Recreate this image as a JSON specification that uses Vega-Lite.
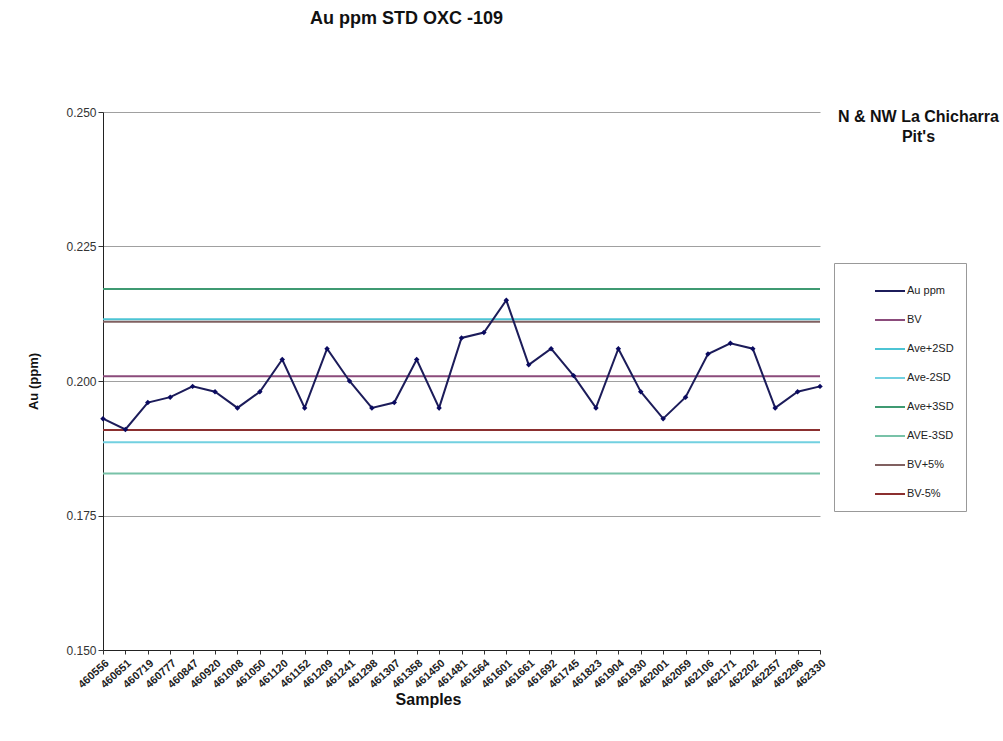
{
  "$schema": "https://vega.github.io/schema/vega-lite/v6.json",
  "width": 717,
  "height": 538,
  "autosize": "none",
  "padding": {"left": 103, "top": 112, "right": 183, "bottom": 91},
  "background": "white",
  "config": {
    "font": "Liberation Sans",
    "view": {"stroke": null}
  },
  "title": {
    "text": "Au ppm STD OXC -109",
    "font": "Liberation Sans",
    "fontSize": 18,
    "fontWeight": "bold",
    "color": "#111",
    "anchor": "middle",
    "dx": -55,
    "baseline": "alphabetic",
    "offset": 64
  },
  "datasets": {
    "samples": [
      {"sample": "460556", "au": 0.193},
      {"sample": "460651", "au": 0.191},
      {"sample": "460719", "au": 0.196},
      {"sample": "460777", "au": 0.197},
      {"sample": "460847", "au": 0.199},
      {"sample": "460920", "au": 0.198},
      {"sample": "461008", "au": 0.195},
      {"sample": "461050", "au": 0.198},
      {"sample": "461120", "au": 0.204},
      {"sample": "461152", "au": 0.195},
      {"sample": "461209", "au": 0.206},
      {"sample": "461241", "au": 0.200},
      {"sample": "461298", "au": 0.195},
      {"sample": "461307", "au": 0.196},
      {"sample": "461358", "au": 0.204},
      {"sample": "461450", "au": 0.195},
      {"sample": "461481", "au": 0.208},
      {"sample": "461564", "au": 0.209},
      {"sample": "461601", "au": 0.215},
      {"sample": "461661", "au": 0.203},
      {"sample": "461692", "au": 0.206},
      {"sample": "461745", "au": 0.201},
      {"sample": "461823", "au": 0.195},
      {"sample": "461904", "au": 0.206},
      {"sample": "461930", "au": 0.198},
      {"sample": "462001", "au": 0.193},
      {"sample": "462059", "au": 0.197},
      {"sample": "462106", "au": 0.205},
      {"sample": "462171", "au": 0.207},
      {"sample": "462202", "au": 0.206},
      {"sample": "462257", "au": 0.195},
      {"sample": "462296", "au": 0.198},
      {"sample": "462330", "au": 0.199}
    ],
    "limits": [
      {"series": "Ave+3SD", "value": 0.2171},
      {"series": "Ave+2SD", "value": 0.2115},
      {"series": "BV+5%", "value": 0.2110},
      {"series": "BV", "value": 0.2009},
      {"series": "BV-5%", "value": 0.1909},
      {"series": "Ave-2SD", "value": 0.1886},
      {"series": "AVE-3SD", "value": 0.1828}
    ]
  },
  "layer": [
    {
      "data": {"name": "limits"},
      "mark": {"type": "rule", "strokeWidth": 2},
      "encoding": {
        "y": {
          "field": "value",
          "type": "quantitative",
          "scale": {"domain": [0.15, 0.25], "zero": false, "nice": false},
          "axis": {
            "orient": "right",
            "labels": false,
            "ticks": false,
            "domain": false,
            "grid": false,
            "title": ["N & NW La Chicharra", "Pit's"],
            "titleAngle": 0,
            "titleAlign": "center",
            "titleBaseline": "top",
            "titleX": 98,
            "titleY": -4,
            "titleFont": "Liberation Sans",
            "titleFontSize": 16,
            "titleFontWeight": "bold",
            "titleColor": "#111",
            "titleLineHeight": 20
          }
        },
        "color": {
          "field": "series",
          "type": "nominal",
          "scale": {
            "domain": ["Au ppm", "BV", "Ave+2SD", "Ave-2SD", "Ave+3SD", "AVE-3SD", "BV+5%", "BV-5%"],
            "range": ["#1c1c5a", "#8b4b7b", "#4cc4d4", "#72d0e0", "#3f9a72", "#78c2a8", "#806060", "#8b2f2f"]
          },
          "legend": {
            "title": null,
            "orient": "none",
            "legendX": 731,
            "legendY": 151,
            "symbolType": "stroke",
            "symbolSize": 900,
            "symbolStrokeWidth": 2,
            "symbolOffset": 28,
            "labelOffset": 1,
            "labelFont": "Liberation Sans",
            "labelFontSize": 11,
            "labelColor": "#222",
            "rowPadding": 8,
            "padding": 12,
            "strokeColor": "#999",
            "fillColor": "white"
          }
        }
      }
    },
    {
      "data": {"name": "samples"},
      "mark": {"type": "line", "strokeWidth": 2},
      "encoding": {
        "x": {
          "field": "sample",
          "type": "ordinal",
          "sort": null,
          "scale": {"type": "point", "padding": 0},
          "axis": {
            "title": "Samples",
            "titleFont": "Liberation Sans",
            "titleFontSize": 16,
            "titleFontWeight": "bold",
            "titleColor": "#111",
            "titlePadding": 2,
            "titleX": 325,
            "labelAngle": -42,
            "labelFont": "Liberation Sans",
            "labelFontSize": 11,
            "labelFontWeight": "bold",
            "labelColor": "#222",
            "labelPadding": 3,
            "tickSize": 4,
            "tickColor": "#333",
            "domainColor": "#222",
            "grid": false
          }
        },
        "y": {
          "field": "au",
          "type": "quantitative",
          "scale": {"domain": [0.15, 0.25], "zero": false, "nice": false},
          "axis": {
            "orient": "left",
            "title": "Au (ppm)",
            "values": [0.15, 0.175, 0.2, 0.225, 0.25],
            "format": ".3f",
            "titleFont": "Liberation Sans",
            "titleFontSize": 13,
            "titleFontWeight": "bold",
            "titleColor": "#111",
            "titlePadding": 25,
            "labelFont": "Liberation Sans",
            "labelFontSize": 12,
            "labelColor": "#333",
            "tickSize": 5,
            "tickColor": "#333",
            "domainColor": "#222",
            "grid": true,
            "gridColor": "#a0a0a0",
            "gridWidth": 1
          }
        },
        "color": {"datum": "Au ppm"}
      }
    },
    {
      "data": {"name": "samples"},
      "mark": {"type": "point", "shape": "diamond", "filled": true, "size": 30, "color": "#0a0a60", "opacity": 1},
      "encoding": {
        "x": {"field": "sample", "type": "ordinal", "sort": null},
        "y": {"field": "au", "type": "quantitative", "axis": null}
      }
    }
  ],
  "resolve": {"axis": {"y": "independent"}}
}
